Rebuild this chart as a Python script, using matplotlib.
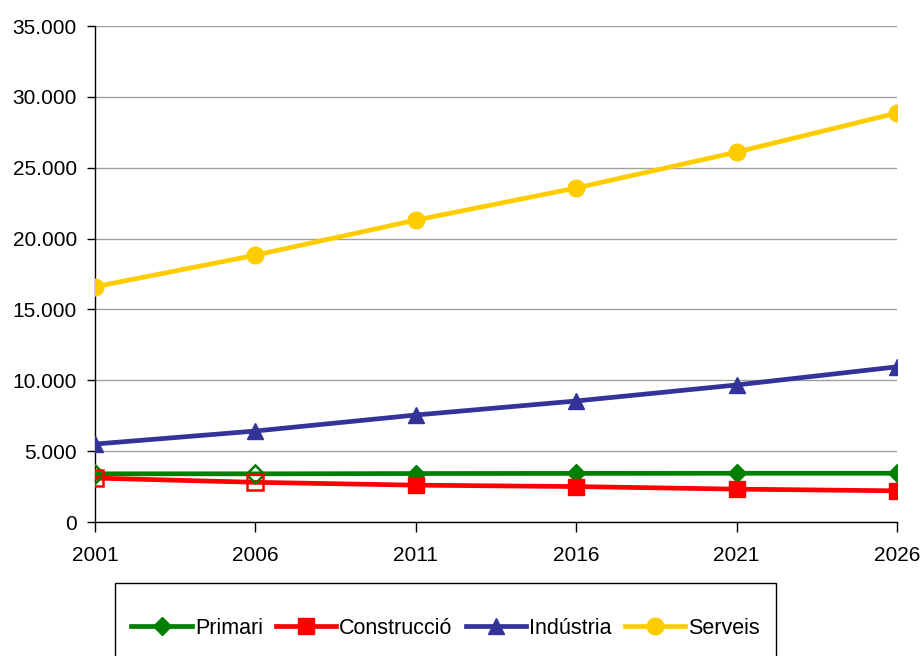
import matplotlib
matplotlib.use("Agg")
import matplotlib.pyplot as plt
from matplotlib.lines import Line2D
from matplotlib.patches import Rectangle
from matplotlib.ticker import FuncFormatter

years = [2001, 2006, 2011, 2016, 2021, 2026]
primari = [3400, 3400, 3420, 3430, 3440, 3440]
construccio = [3100, 2800, 2600, 2500, 2320, 2200]
industria = [5500, 6420, 7550, 8540, 9670, 10950]
serveis = [16600, 18830, 21300, 23570, 26100, 28860]
yticks = [0, 5000, 10000, 15000, 20000, 25000, 30000, 35000]
labels = ["Primari", "Construcció", "Indústria", "Serveis"]

plt.rcParams['font.family'] = ['Liberation Sans', 'DejaVu Sans']
plt.rcParams['font.size'] = 15

fig = plt.figure(figsize=(9.24, 6.56), dpi=100)
ax = fig.add_axes([95/924, 1-522/656, (897-95)/924, (522-26)/656])

green = "#008000"
red = "#FF0000"
blue = "#333399"
yellow = "#FFCC00"
lw = 3.4

# Primari
ax.plot(years, primari, color=green, lw=lw, zorder=3)
ax.plot(years[2:], primari[2:], ls='none', marker='D', ms=9, color=green, zorder=4)
ax.plot(years[:2], primari[:2], ls='none', marker='D', ms=9, mfc='none', mec=green, mew=1.8, zorder=4)
# Construccio
ax.plot(years, construccio, color=red, lw=lw, zorder=3)
ax.plot(years[2:], construccio[2:], ls='none', marker='s', ms=11, color=red, zorder=4)
ax.plot(years[:2], construccio[:2], ls='none', marker='s', ms=11, mfc='none', mec=red, mew=1.8, zorder=4)
# Industria
ax.plot(years, industria, color=blue, lw=lw, marker='^', ms=12, zorder=3)
# Serveis
ax.plot(years, serveis, color=yellow, lw=lw, marker='o', ms=12, zorder=3)

ax.set_xlim(2001, 2026)
ax.set_ylim(0, 35000)
ax.set_xticks(years)
ax.set_yticks(yticks)
ax.yaxis.set_major_formatter(FuncFormatter(lambda v, p: f"{int(v):,}".replace(",", ".")))
ax.grid(axis='y', color='#a0a0a0', lw=1)
ax.set_axisbelow(True)
for s in ['top', 'right']:
    ax.spines[s].set_visible(False)
for s in ['left', 'bottom']:
    ax.spines[s].set_color('black')
    ax.spines[s].set_linewidth(1)
ax.tick_params(axis='both', direction='out', width=1, colors='black', labelsize=15)
ax.tick_params(axis='x', length=7, pad=10)
ax.tick_params(axis='y', length=6, pad=7)
for lab in ax.get_xticklabels() + ax.get_yticklabels():
    lab.set_clip_on(False)

# legend
handles = [
    Line2D([], [], color=green, lw=lw, marker='D', ms=9),
    Line2D([], [], color=red, lw=lw, marker='s', ms=11),
    Line2D([], [], color=blue, lw=lw, marker='^', ms=12),
    Line2D([], [], color=yellow, lw=lw, marker='o', ms=12),
]
fig.patches.append(Rectangle((115/924, 1-700/656), (776-115)/924, (700-583)/656,
                             transform=fig.transFigure, fill=False, ec='black', lw=1))
fig.legend(handles, labels, loc='center', bbox_to_anchor=((125+766)/2/924, 1-628/656),
           ncol=4, frameon=False, handlelength=2.8, handletextpad=0.15,
           columnspacing=0.6, fontsize=15.5, borderaxespad=0)

fig.savefig("out.png", dpi=100)
